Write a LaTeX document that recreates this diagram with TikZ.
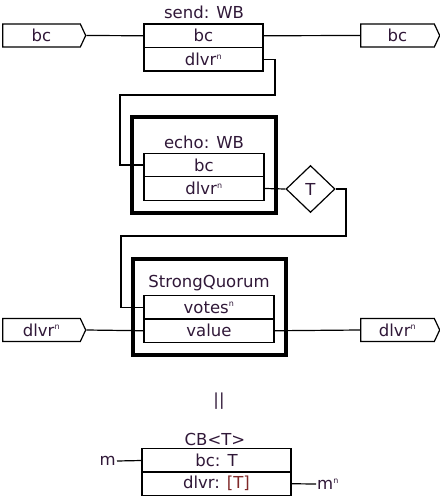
\documentclass[tikz,border=0pt]{standalone}
\usepackage{fontspec}
\setmainfont{DejaVu Sans}
\usetikzlibrary{shapes.geometric,shapes.symbols}
\definecolor{txt}{RGB}{48,24,56}
\definecolor{brk}{RGB}{128,40,40}
\newcommand{\supn}{\textsuperscript{\fontsize{8}{9}\selectfont n}}
\begin{document}
\begin{tikzpicture}[x=1pt,y=-1pt,
  every node/.style={text=txt,font=\fontsize{16.5}{18}\selectfont},
  wire/.style={line width=1.2pt},
  row/.style={draw,line width=1.3pt,minimum height=23.5pt,inner sep=0pt},
  outer/.style={draw,line width=3.5pt,inner sep=0pt},
  port/.style={draw,line width=1.2pt,signal,signal to=east,signal pointer angle=130,
    minimum width=83pt,minimum height=23pt,inner sep=0pt},
  ttl/.style={inner sep=0pt}]
\useasboundingbox (0,0) rectangle (439,497);
% send
\node[ttl] (sendt) at (204,12) {send: WB};
\node[row,minimum width=119pt] (sbc) at (203.5,35.75) {bc};
\node[row,minimum width=119pt] (sdl) at (203.5,59.25) {dlvr\supn};
\node[port] (lbc) at (41.5,35.5) {bc};
\node[port,minimum width=79pt] (rbc) at (397.5,35.5) {bc};
\draw[wire] (lbc.east) -- (sbc.west);
\draw[wire] (sbc.east) -- (rbc.west);
% echo
\node[outer,minimum width=144pt,minimum height=96pt] (echo) at (204,165) {};
\node[ttl] (echot) at (204,142) {echo: WB};
\node[row,minimum width=120pt] (ebc) at (204,165) {bc};
\node[row,minimum width=120pt] (edl) at (204,188.5) {dlvr\supn};
\coordinate (w1) at (275,95);
\coordinate (w2) at (120,95);
\draw[wire] (sdl.east) -| (w1) -- (w2) |- (ebc.west);
\node[draw,line width=1.2pt,diamond,minimum width=49pt,minimum height=47pt,inner sep=0pt] (T) at (310.5,189) {T};
\draw[wire] (edl.east) -- (T.west);
% strong quorum
\node[outer,minimum width=153pt,minimum height=96pt] (sq) at (209.5,307) {};
\node[ttl] (sqt) at (209,283) {StrongQuorum};
\node[row,minimum width=130pt] (vot) at (209,307.5) {votes\supn};
\node[row,minimum width=130pt] (val) at (209,330.75) {value};
\coordinate (w3) at (346,236);
\coordinate (w4) at (121,236);
\draw[wire] (T.east) -| (w3) -- (w4) |- (vot.west);
\node[port] (ldl) at (41.5,330) {dlvr\supn};
\node[port,minimum width=79pt] (rdl) at (397.5,330) {dlvr\supn};
\draw[wire] (ldl.east) -- (val.west);
\draw[wire] (val.east) -- (rdl.west);
% parallel
\node[ttl] (par) at (219,401) {||};
% CB
\node[ttl] (cbt) at (215,439) {CB<T>};
\node[row,minimum width=149pt] (cbbc) at (216.5,460.5) {bc: T};
\node[row,minimum width=149pt] (cbdl) at (216.5,483.75) {dlvr: \textcolor{brk}{[T]}};
\node[anchor=east,inner sep=1pt] (m) at (117,461) {m};
\draw[wire] (m.east) -- (cbbc.west);
\node[anchor=west,inner sep=1pt] (mn) at (316,484) {m\supn};
\draw[wire] (cbdl.east) -- (mn.west);
\end{tikzpicture}
\end{document}
